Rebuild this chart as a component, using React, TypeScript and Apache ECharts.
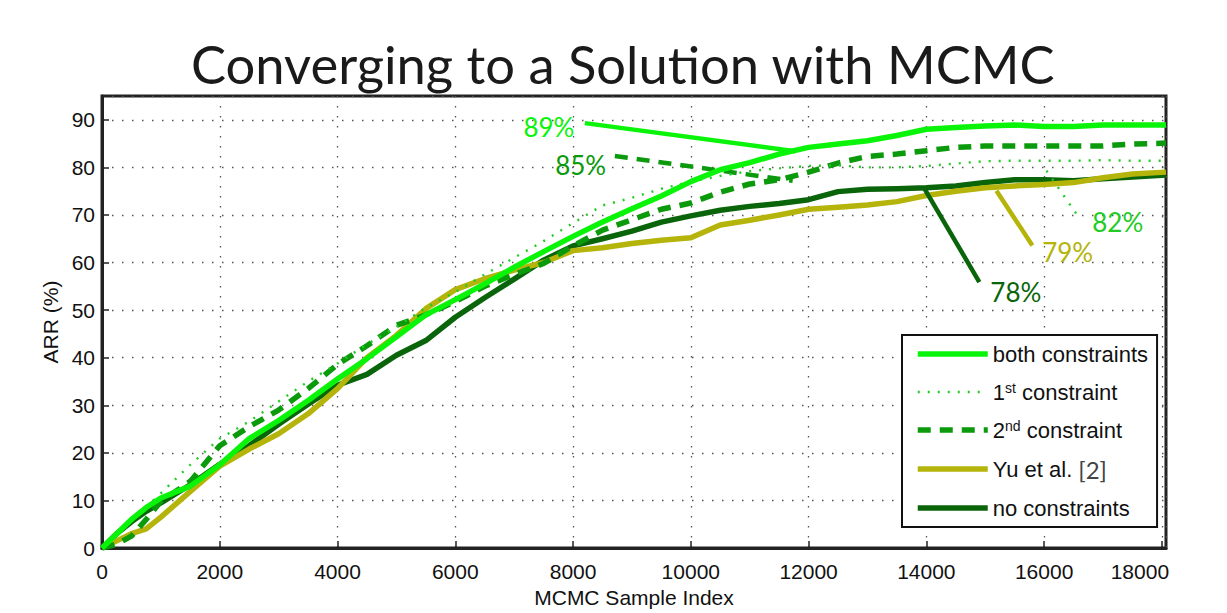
import React, { useEffect, useRef } from "react";
import * as echarts from "echarts";

const sampleIndex = [0, 250, 500, 750, 1000, 1500, 2000, 2500, 3000, 3500, 4000, 4500, 5000, 5500, 6000, 6500, 7000, 7500, 8000, 8500, 9000, 9500, 10000, 10500, 11000, 11500, 12000, 12500, 13000, 13500, 14000, 14500, 15000, 15500, 16000, 16500, 17000, 17500, 18070];

const bothConstraints = [0, 3, 6, 8.5, 10.5, 13, 17.5, 23, 26.8, 31, 35.5, 39.8, 44.4, 49, 52.2, 55.5, 59, 62.3, 65.5, 68.5, 71.3, 74, 77, 79.5, 81, 82.8, 84.2, 84.9, 85.6, 86.7, 88, 88.4, 88.7, 88.9, 88.6, 88.6, 88.9, 88.9, 88.9];
const firstConstraint = [0, 2.5, 5.5, 8.5, 11.5, 17.5, 23, 26.6, 30.8, 35, 38.8, 42.8, 46.5, 50.5, 53.8, 57.5, 61, 64.5, 68.3, 72, 73.6, 75.5, 77, 78.2, 79.2, 79.8, 80.3, 80.4, 80, 80, 80.3, 80.8, 81.3, 81.4, 81.4, 81.4, 81.5, 81.4, 81.4];
const secondConstraint = [0, 0.8, 2.5, 6, 9.8, 14, 21.5, 25.5, 29, 33.5, 38.6, 42.5, 46.8, 49, 51.8, 55, 57.5, 59.8, 63.5, 66.8, 69, 71.2, 72.5, 74.8, 76.5, 77.4, 79, 80.9, 82.3, 82.8, 83.5, 84.2, 84.5, 84.5, 84.5, 84.5, 84.5, 84.9, 85.1];
const yuEtAl = [0, 1.5, 3, 4, 6.5, 11.9, 17.2, 20.8, 24, 28.2, 33.5, 40, 44.7, 50.3, 54.3, 56.6, 58.4, 60, 62.5, 63.1, 64, 64.7, 65.2, 67.9, 68.9, 70, 71.2, 71.6, 72.1, 72.8, 74.1, 75, 75.7, 76.1, 76.4, 76.8, 77.8, 78.6, 79];
const noConstraints = [0, 3, 5.5, 7.7, 9.5, 13.3, 17.6, 21.5, 26, 30.2, 34.2, 36.5, 40.5, 43.6, 48.5, 52.6, 56.5, 60.5, 63.5, 65, 66.6, 68.5, 69.8, 71, 71.8, 72.4, 73.2, 74.9, 75.4, 75.5, 75.7, 76.1, 76.8, 77.4, 77.4, 77.2, 77.6, 78, 78.4];

const seriesNames = ["both constraints", "1st constraint", "2nd constraint", "Yu et al. [2]", "no constraints"];

// annotation: label text, label point, leader line start, leader line end (data coordinates)
const annotBoth = { text: "89%", at: [7590, 88.5], from: [8200, 89.3], to: [11770, 83.4] };
const annotFirst = { text: "82%", at: [17250, 68.5], from: [16040, 79.3], to: [16550, 70.2] };
const annotSecond = { text: "85%", at: [8130, 80.5], from: [8710, 82.4], to: [11730, 77.2] };
const annotYu = { text: "79%", at: [16400, 62.3], from: [15190, 75.1], to: [15800, 63.6] };
const annotNo = { text: "78%", at: [15520, 53.9], from: [13970, 75.5], to: [14900, 55.9] };

const SANS = "'Liberation Sans', Arial, sans-serif";
const MYRIAD = "Lato, 'Open Sans', sans-serif";

function pairs(ys: number[]) {
  return sampleIndex.map((x, i) => [x, ys[i]]);
}

function makeSeries(name: string, ys: number[], color: string, width: number, type: any, annot: any, z: number) {
  return {
    name,
    type: "line",
    data: pairs(ys),
    showSymbol: false,
    symbol: "none",
    z,
    lineStyle: { color, width, type, cap: "butt", join: "round" },
    itemStyle: { color },
    markLine: {
      silent: true,
      symbol: ["none", "none"],
      label: { show: false },
      lineStyle: { color, width: Math.min(width, 4.5), type },
      data: [[{ coord: annot.from }, { coord: annot.to }]],
    },
    markPoint: {
      silent: true,
      symbol: "circle",
      symbolSize: 0,
      label: {
        show: true,
        position: "inside",
        formatter: annot.text,
        color,
        fontSize: 26,
        fontFamily: MYRIAD,
      },
      data: [{ coord: annot.at }],
    },
  };
}

export default function App() {
  const ref = useRef<HTMLDivElement>(null);
  useEffect(() => {
    if (!ref.current) return;
    const chart = echarts.init(ref.current, null, { renderer: "svg" });
    chart.setOption({
      animation: false,
      backgroundColor: "#ffffff",
      title: {
        text: "Converging to a Solution with MCMC",
        left: 186,
        top: 32,
        textStyle: { fontFamily: MYRIAD, fontSize: 52.5, fontWeight: "normal", color: "#1a1a1a" },
      },
      grid: {
        left: 102,
        right: 61,
        top: 96,
        bottom: 63,
        show: true,
        borderColor: "#222",
        borderWidth: 3,
        backgroundColor: "transparent",
      },
      legend: {
        orient: "vertical",
        left: 902,
        top: 335,
        padding: [8, 9, 8, 13],
        itemWidth: 70,
        itemHeight: 24,
        itemGap: 16,
        backgroundColor: "#ffffff",
        borderColor: "#111",
        borderWidth: 2,
        itemStyle: { opacity: 0 },
        lineStyle: { width: "inherit" },
        data: seriesNames,
        formatter: (name: string) => {
          if (name === "1st constraint") return "1{sup|st} constraint";
          if (name === "2nd constraint") return "2{sup|nd} constraint";
          if (name === "Yu et al. [2]") return "Yu et al. {g|[2]}";
          return name;
        },
        textStyle: {
          fontFamily: SANS,
          fontSize: 22,
          color: "#111",
          rich: {
            sup: { fontFamily: SANS, fontSize: 14, color: "#111", verticalAlign: "top" },
            g: { fontFamily: MYRIAD, fontSize: 24, color: "#444" },
          },
        },
      },
      xAxis: {
        type: "value",
        min: 0,
        max: 18070,
        interval: 2000,
        name: "MCMC Sample Index",
        nameLocation: "middle",
        nameGap: 39,
        nameTextStyle: { fontFamily: SANS, fontSize: 21, color: "#111" },
        axisLine: { show: true, lineStyle: { color: "#222", width: 3 } },
        axisTick: { show: true, inside: true, length: 7, lineStyle: { color: "#222", width: 1.5 } },
        axisLabel: {
          show: true,
          margin: 13,
          showMaxLabel: false,
          fontFamily: SANS,
          fontSize: 21,
          color: "#111",
          formatter: (v: number) => (v === 18000 ? "{r|18000}" : String(v)),
          rich: { r: { fontFamily: SANS, fontSize: 21, color: "#111", padding: [0, 44, 0, 0] } },
        },
        splitLine: { show: true, lineStyle: { color: "#555", width: 1.3, type: [1.5, 8.5] } },
      },
      yAxis: {
        type: "value",
        min: 0,
        max: 95,
        interval: 10,
        name: "ARR (%)",
        nameLocation: "middle",
        nameGap: 35,
        nameTextStyle: { fontFamily: SANS, fontSize: 21, color: "#111" },
        axisLine: { show: true, lineStyle: { color: "#222", width: 3 } },
        axisTick: { show: true, inside: true, length: 7, lineStyle: { color: "#222", width: 1.5 } },
        axisLabel: {
          show: true,
          margin: 7,
          showMaxLabel: false,
          fontFamily: SANS,
          fontSize: 21,
          color: "#111",
        },
        splitLine: { show: true, lineStyle: { color: "#555", width: 1.3, type: [1.5, 8.5] } },
      },
      series: [
        makeSeries("no constraints", noConstraints, "#0a650a", 5.5, "solid", annotNo, 2),
        makeSeries("Yu et al. [2]", yuEtAl, "#b4b40a", 5.5, "solid", annotYu, 3),
        makeSeries("2nd constraint", secondConstraint, "#0b9a0b", 5.5, [13, 9], annotSecond, 4),
        makeSeries("1st constraint", firstConstraint, "#22cc22", 2.4, [2, 8], annotFirst, 5),
        makeSeries("both constraints", bothConstraints, "#0af40a", 5.5, "solid", annotBoth, 6),
      ],
    });
    return () => chart.dispose();
  }, []);
  return (
    <div
      ref={ref}
      style={{ position: "fixed", left: 0, top: 0, width: 1227, height: 613, background: "#fff" }}
    />
  );
}
